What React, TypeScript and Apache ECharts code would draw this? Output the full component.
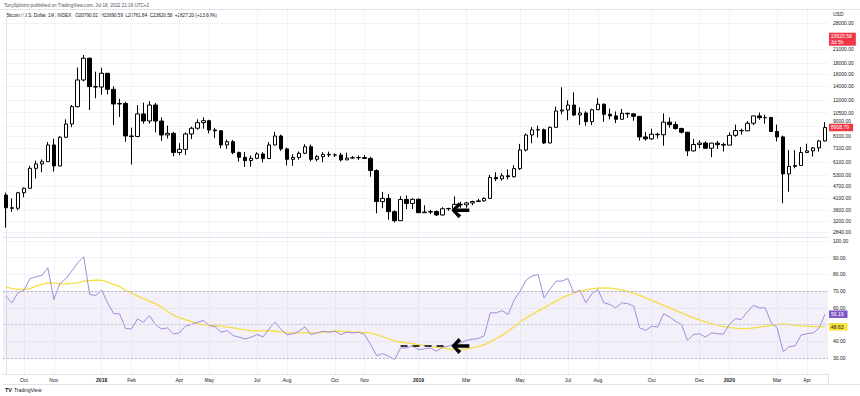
import React, { useEffect, useRef } from "react";
import * as echarts from "echarts";

// ---------- data (weekly candles, Bitcoin / U.S. Dollar INDEX) ----------
const firstWeekUTC = [2017, 8, 11]; // Monday 2017-09-11
const opens = [
  4250, 3700, 3680, 4360, 4580, 5700, 5980, 6130, 7360, 5850, 8010, 9260, 11200, 15000, 19030, 13940,
  13880, 16140, 13540, 11530, 11600, 8120, 8080, 10340, 9570, 11400, 9570, 8210, 8360, 6780, 7020, 8300,
  8840, 9400, 9600, 8670, 8600, 7360, 7630, 6770, 6430, 6200, 6360, 6670, 6340, 7360, 8120, 7050,
  6290, 6420, 6720, 7220, 6290, 6480, 6640, 6600, 6590, 6250, 6380, 6400, 6410, 6350, 5560, 3960,
  4100, 3545, 3210, 4050, 3880, 4060, 3505, 3530, 3550, 3420, 3660, 3670, 3840, 3820, 3900, 3960,
  3990, 4100, 5160, 5080, 5250, 5200, 5680, 6970, 8210, 8680, 8700, 7520, 8930, 10680, 10800, 11400,
  10220, 10450, 9500, 10830, 11500, 10300, 10120, 9750, 10410, 10350, 10070, 8040, 7870, 8280, 8230, 9450,
  9200, 8810, 8460, 6900, 7400, 7520, 7100, 7510, 7390, 7350, 8180, 8620, 8600, 9340, 10120, 9920,
  9950, 8530, 8040, 5360, 5820, 5880, 6780, 6900, 7130, 7690,
];
const highs = [
  4370, 4100, 4400, 4620, 5860, 6200, 6280, 7600, 7880, 8100, 9750, 11400, 17200, 19720, 19200, 16430,
  17150, 16200, 14000, 12200, 11800, 8900, 11400, 11700, 11900, 11650, 9950, 9100, 8500, 7500, 8450, 9000,
  9750, 9950, 9700, 8870, 8650, 7800, 7760, 6850, 6820, 6560, 6800, 6800, 7600, 8500, 8250, 7150,
  6650, 6850, 7420, 7400, 6600, 6800, 6840, 6700, 6750, 6770, 6520, 6550, 6580, 6470, 5640, 4400,
  4300, 3600, 4200, 4240, 4100, 4100, 3800, 3620, 3600, 3720, 3700, 4190, 3950, 3950, 4000, 4080,
  4150, 5300, 5460, 5400, 5630, 5900, 7450, 8350, 8950, 9100, 8800, 9000, 11200, 13850, 12000, 13100,
  11100, 10650, 10950, 12300, 11600, 10950, 10620, 10920, 10480, 10400, 10100, 8500, 8800, 8420, 10400, 9950,
  9500, 8900, 8500, 7860, 7750, 7650, 7500, 7700, 7550, 8450, 9200, 8800, 9560, 10150, 10500, 10250,
  10000, 9200, 8150, 6960, 6950, 7200, 7460, 7200, 7780, 9460,
];
const lows = [
  2975, 3540, 3600, 4150, 4560, 5100, 5460, 6120, 5500, 5830, 7950, 8950, 11100, 14800, 10800, 12270,
  12750, 12800, 9160, 10000, 7630, 5940, 8000, 9300, 9300, 8450, 7700, 7900, 6500, 6580, 6600, 7850,
  8700, 8800, 8350, 7950, 7100, 7050, 6650, 6130, 5780, 5800, 6300, 6080, 6330, 7350, 6900, 5880,
  5860, 6260, 6660, 6150, 6150, 6100, 6450, 6450, 6150, 6250, 6350, 6250, 6340, 5200, 3480, 3680,
  3250, 3150, 3200, 3650, 3650, 3500, 3500, 3450, 3380, 3400, 3580, 3650, 3700, 3700, 3800, 3950,
  3960, 4090, 4950, 4980, 5050, 5150, 5600, 6850, 7500, 8000, 7450, 7500, 8900, 10300, 9650, 10100,
  9160, 9100, 9150, 10800, 9480, 9750, 9350, 9700, 9900, 9600, 7720, 7710, 7780, 7900, 7300, 8900,
  8700, 8350, 6520, 6850, 7100, 7050, 6440, 7050, 6850, 7350, 8050, 8250, 8550, 9150, 9700, 9300,
  8500, 7650, 3886, 4410, 5700, 5870, 6750, 6480, 6850, 7650,
];
const closes = [
  3700, 3680, 4360, 4580, 5700, 5980, 6130, 7360, 5850, 8010, 9260, 11200, 15000, 19030, 13940, 13880,
  16140, 13540, 11530, 11600, 8120, 8080, 10340, 9570, 11400, 9570, 8210, 8360, 6780, 7020, 8300, 8840,
  9400, 9600, 8670, 8600, 7360, 7630, 6770, 6430, 6200, 6360, 6670, 6340, 7360, 8120, 7050, 6290,
  6420, 6720, 7220, 6290, 6480, 6640, 6600, 6590, 6250, 6380, 6400, 6410, 6350, 5560, 3960, 4100,
  3545, 3210, 4050, 3880, 4060, 3505, 3530, 3550, 3420, 3660, 3670, 3840, 3820, 3900, 3960, 3990,
  4100, 5160, 5080, 5250, 5200, 5680, 6970, 8210, 8680, 8700, 7520, 8930, 10680, 10800, 11400, 10220,
  10450, 9500, 10830, 11500, 10300, 10120, 9750, 10410, 10350, 10070, 8040, 7870, 8280, 8230, 9450, 9200,
  8810, 8460, 6900, 7400, 7520, 7100, 7510, 7390, 7350, 8180, 8620, 8600, 9340, 10120, 9920, 9950,
  8530, 8040, 5360, 5820, 5880, 6780, 6900, 7130, 7690, 8908.79,
];
const rsiValues = [
  67, 63, 69, 70.5, 77.4, 78.6, 79.4, 84, 65, 74.4, 77.4, 82, 87, 90.6, 68, 67.4,
  70.6, 63, 56.6, 56.4, 47.6, 47.4, 53.4, 51.4, 55.4, 50, 47.4, 48, 44.4, 45, 49, 50,
  51.4, 52.4, 49.4, 48.6, 45.4, 46.4, 43.4, 42.4, 41.4, 42.4, 44, 42.6, 47.4, 51.5, 47, 44,
  44.4, 46, 48.6, 44, 45, 46, 45.4, 46, 44, 45.4, 45, 45.4, 44, 38, 31.4, 32.6,
  31, 29, 36, 36, 37.4, 35, 35.4, 36, 34, 36.4, 37, 38.5, 39, 40.5, 41.2, 41.6,
  43.4, 57, 57, 58.4, 56, 64.6, 70, 76.6, 79, 80, 66, 71, 76, 76, 77.5, 69,
  70.5, 63, 68.5, 71, 63, 62, 60, 63, 62.5, 61, 48, 46.5, 49, 48.5, 56.5, 54.5,
  52, 50, 40.5, 44, 44.5, 42.5, 45, 44.5, 44.3, 50, 53.5, 53, 57.5, 61.5, 60, 60,
  51, 48, 33.8, 36.8, 37.2, 43.7, 44.5, 45, 47.8, 56.19,
];
const rsiMAValues = [
  72.6, 71.5, 71, 71, 71.5, 73, 74, 75, 74.8, 74.4, 74.4, 74.6, 75, 76, 76.3, 76.6,
  76.5, 75.5, 74, 72.8, 70.5, 69, 67, 65.5, 64, 62.5, 60.5, 58, 55.6, 54.2, 53, 51.8,
  50.6, 50, 49.6, 49.4, 49, 48.4, 48, 47.4, 46.8, 46.4, 46.2, 46.2, 46.2, 46, 45.6, 45.2,
  45, 45, 45, 45, 45.2, 45.5, 45.8, 46, 46, 45.8, 45.5, 45.4, 45.2, 45, 44, 42.8,
  41.5, 40.3, 39.4, 39, 38.6, 38, 37.5, 37, 36.4, 36, 35.5, 35, 34.8, 35.5, 36.2, 37,
  38, 39.5, 41.5, 43.5, 46, 48.5, 51.5, 54, 56, 58, 60, 62, 64, 66, 67.5, 69,
  70, 70.8, 71.4, 71.8, 72, 71.8, 71.3, 70.6, 69.8, 68.8, 67.5, 66, 64.5, 63, 61.5, 60,
  58.5, 57, 55.5, 54, 52.8, 51.6, 50.5, 49.6, 48.8, 48.2, 47.8, 47.6, 47.6, 48, 48.5, 49,
  49.5, 50, 50.3, 50, 49.6, 49.2, 49, 48.8, 48.7, 48.63,
];
const priceTicks = [2840, 3200, 3600, 4100, 4700, 5300, 6100, 7100, 8100, 9000, 10500, 12000, 14000, 16000, 18000, 21000, 28000];
const rsiGridTicks = [30, 40, 50, 60, 70, 80, 90, 100];
const rsiLabelTicks = [30, 40, 60, 70, 80, 90, 100];
const timeTickDates = [
  "2017-10-02", "2017-11-06", "2018-01-01", "2018-02-05", "2018-04-02", "2018-05-07", "2018-07-02",
  "2018-08-06", "2018-10-01", "2018-11-05", "2019-01-07", "2019-03-04", "2019-05-06", "2019-07-01",
  "2019-08-05", "2019-10-07", "2019-12-02", "2020-01-06", "2020-03-02", "2020-04-06",
];
const monthNames = ["Jan", "Feb", "Mar", "Apr", "May", "Jun", "Jul", "Aug", "Sep", "Oct", "Nov", "Dec"];
const currentPrice = 23620.58;
const currentCountdown = "3d 5h";
const rsiBand = { upper: 70, middle: 50, lower: 30 };
const priceArrow = { week: "2019-02-25", price: 3600 };
const rsiArrow = { fromWeek: "2018-12-17", toWeek: "2019-02-11", arrowWeek: "2019-02-25", value: 37.2 };
const publishedText = "TonySpilotro published on TradingView.com, Jul 18, 2022 21:19 UTC+2";
const symbolText = "Bitcoin / U.S. Dollar, 1W, INDEX";
const ohlcText = "O20790.02  H23690.59  L20761.84  C23620.58  +2827.20 (+13.60%)";

// ---------- derived ----------
const N = opens.length;
const weeks = opens.map((_, i) =>
  new Date(Date.UTC(firstWeekUTC[0], firstWeekUTC[1], firstWeekUTC[2] + 7 * i)).toISOString().slice(0, 10)
);
const lg = (p: number) => Math.log10(p);
const candleData = opens.map((o, i) => [lg(o), lg(closes[i]), lg(lows[i]), lg(highs[i])]);
const timeTickIdx = timeTickDates.map((d) => weeks.indexOf(d));
const lastClose = closes[N - 1];
const lastRsi = rsiValues[N - 1];
const lastRsiMA = rsiMAValues[N - 1];

const FONT = "'Liberation Sans', Arial, sans-serif";
const TXT = "#131722";
const GRIDC = "#F0F3FA";
const BORDER = "#E0E3EB";
const CLEAR = "rgba(0,0,0,0)";
const ARROW = "path://M0,9 L8,1 L11,4 L6.5,7.3 L20,7.3 L20,10.7 L6.5,10.7 L11,14 L8,17 Z";

function tagLabel(text: string, bg: string, fg: string) {
  return {
    show: true,
    position: "end",
    distance: 1,
    formatter: text,
    backgroundColor: bg,
    color: fg,
    fontSize: 5,
    fontFamily: FONT,
    lineHeight: 5.5,
    padding: [1, 4, 1, 2],
  };
}

// price label close to the last-close tag is lifted a little (as the price scale does)
function priceLabel(v: number) {
  const p = Math.round(Math.pow(10, v));
  const txt = p.toFixed(2);
  const nearTag = Math.abs(lg(p) - lg(lastClose)) < 0.012;
  return nearTag ? `{up|${txt}}` : txt;
}

export default function App() {
  const ref = useRef<HTMLDivElement>(null);
  useEffect(() => {
    if (!ref.current) return;
    const chart = echarts.init(ref.current, undefined, { renderer: "svg" });
    const option: any = {
      animation: false,
      backgroundColor: "#ffffff",
      textStyle: { fontFamily: FONT },
      grid: [
        { left: 3, top: 10, width: 825, height: 227 },
        { left: 3, top: 238, width: 825, height: 136 },
      ],
      xAxis: [
        {
          type: "category", gridIndex: 0, data: weeks, position: "bottom",
          axisLine: { show: true, lineStyle: { color: BORDER } },
          axisTick: { show: false }, axisLabel: { show: false }, splitLine: { show: false },
        },
        {
          type: "value", gridIndex: 0, min: -0.5, max: N - 0.5, position: "bottom",
          axisLine: { show: false },
          axisTick: { show: false, customValues: timeTickIdx },
          axisLabel: { show: false, customValues: timeTickIdx },
          splitLine: { show: true, lineStyle: { color: GRIDC, width: 1 } },
        },
        {
          type: "category", gridIndex: 1, data: weeks, position: "bottom",
          axisLine: { show: true, lineStyle: { color: BORDER } },
          axisTick: { show: false }, axisLabel: { show: false }, splitLine: { show: false },
        },
        {
          type: "value", gridIndex: 1, min: -0.5, max: N - 0.5, position: "bottom",
          axisLine: { show: false },
          axisTick: { show: false, customValues: timeTickIdx },
          axisLabel: {
            show: true,
            customValues: timeTickIdx,
            margin: 3,
            fontSize: 5,
            color: TXT,
            formatter: (v: number) => {
              const d = weeks[Math.round(v)] || "";
              const y = d.slice(0, 4);
              const m = parseInt(d.slice(5, 7), 10);
              return m === 1 ? `{b|${y}}` : monthNames[m - 1];
            },
            rich: { b: { fontWeight: "bold", fontSize: 5, color: TXT } },
          },
          splitLine: { show: true, lineStyle: { color: GRIDC, width: 1 } },
        },
      ],
      yAxis: [
        {
          type: "value", gridIndex: 0, position: "right",
          min: lg(2686), max: lg(32280),
          axisLine: { show: true, lineStyle: { color: BORDER } },
          axisTick: { show: false, customValues: priceTicks.map(lg) },
          axisLabel: {
            customValues: priceTicks.map(lg),
            formatter: priceLabel,
            fontSize: 5, color: TXT, margin: 5,
            rich: { up: { fontSize: 5, color: TXT, padding: [0, 0, 11, 0] } },
          },
          splitLine: { show: true, lineStyle: { color: GRIDC, width: 1 } },
        },
        {
          type: "value", gridIndex: 1, position: "right",
          min: 20.4, max: 101.8,
          axisLine: { show: true, lineStyle: { color: BORDER } },
          axisTick: { show: false, customValues: rsiGridTicks },
          axisLabel: {
            customValues: rsiLabelTicks,
            formatter: (v: number) => v.toFixed(2),
            fontSize: 5, color: TXT, margin: 5,
          },
          splitLine: { show: true, lineStyle: { color: GRIDC, width: 1 } },
        },
      ],
      series: [
        {
          type: "candlestick",
          xAxisIndex: 0, yAxisIndex: 0,
          data: candleData,
          barWidth: 4,
          itemStyle: { color: "#ffffff", color0: "#000000", borderColor: "#000000", borderColor0: "#000000", borderWidth: 1 },
          markLine: {
            silent: true, symbol: ["none", "none"], z: 10,
            lineStyle: { color: CLEAR, width: 0 },
            data: [
              { yAxis: lg(currentPrice), label: tagLabel(`${currentPrice.toFixed(2)}\n${currentCountdown}`, "#F23645", "#ffffff") },
              { yAxis: lg(lastClose), label: tagLabel(lastClose.toFixed(2), "#F23645", "#ffffff") },
            ],
          },
          markPoint: {
            silent: true,
            data: [
              {
                coord: [weeks.indexOf(priceArrow.week), lg(priceArrow.price)],
                symbol: ARROW, symbolSize: [18, 16],
                itemStyle: { color: "#000000" }, label: { show: false },
              },
            ],
          },
        },
        {
          type: "line",
          name: "RSI",
          xAxisIndex: 2, yAxisIndex: 1,
          data: rsiValues,
          showSymbol: false, symbol: "none",
          lineStyle: { color: "#A08CDA", width: 1 },
          z: 3,
          markArea: {
            silent: true,
            itemStyle: { color: "rgba(126,87,194,0.09)" },
            data: [[{ yAxis: rsiBand.upper }, { yAxis: rsiBand.lower }]],
          },
          markLine: {
            silent: true, symbol: ["none", "none"], z: 10,
            data: [
              { yAxis: rsiBand.upper, lineStyle: { color: "#B2B5BE", type: [2, 2], width: 1 }, label: { show: false } },
              { yAxis: rsiBand.middle, lineStyle: { color: "#C8CAD2", type: [2, 2], width: 1 }, label: { show: false } },
              { yAxis: rsiBand.lower, lineStyle: { color: "#B2B5BE", type: [2, 2], width: 1 }, label: { show: false } },
              [
                { coord: [weeks.indexOf(rsiArrow.fromWeek), rsiArrow.value], lineStyle: { color: "#3a3a3a", type: [7, 5], width: 2 }, label: { show: false } },
                { coord: [weeks.indexOf(rsiArrow.toWeek), rsiArrow.value] },
              ],
              { yAxis: lastRsi, lineStyle: { color: CLEAR, width: 0 }, label: tagLabel(lastRsi.toFixed(2), "#7E57C2", "#ffffff") },
            ],
          },
          markPoint: {
            silent: true,
            data: [
              {
                coord: [weeks.indexOf(rsiArrow.arrowWeek), rsiArrow.value],
                symbol: ARROW, symbolSize: [18, 16],
                itemStyle: { color: "#000000" }, label: { show: false },
              },
            ],
          },
        },
        {
          type: "line",
          name: "RSI-based MA",
          xAxisIndex: 2, yAxisIndex: 1,
          data: rsiMAValues,
          showSymbol: false, symbol: "none", smooth: false,
          lineStyle: { color: "#F4DF45", width: 1.3 },
          z: 2,
          markLine: {
            silent: true, symbol: ["none", "none"], z: 10,
            lineStyle: { color: CLEAR, width: 0 },
            data: [{ yAxis: lastRsiMA, label: tagLabel(lastRsiMA.toFixed(2), "#F7E13C", TXT) }],
          },
        },
      ],
      graphic: [
        { type: "line", shape: { x1: 0, y1: 9.5, x2: 860, y2: 9.5 }, style: { stroke: BORDER, lineWidth: 1 }, silent: true },
        { type: "line", shape: { x1: 828.5, y1: 374, x2: 828.5, y2: 384 }, style: { stroke: BORDER, lineWidth: 1 }, silent: true },
        { type: "line", shape: { x1: 3, y1: 384.5, x2: 860, y2: 384.5 }, style: { stroke: BORDER, lineWidth: 1 }, silent: true },
        { type: "text", left: 4, top: 2.5, style: { text: publishedText, fontSize: 4.6, fill: "#50535E", fontFamily: FONT } },
        { type: "text", left: 6, top: 12.5, style: { text: `${symbolText}   ${ohlcText}`, fontSize: 4.6, fill: TXT, fontFamily: FONT } },
        { type: "text", left: 833, top: 11.5, style: { text: "USD", fontSize: 5, fill: TXT, fontFamily: FONT } },
        { type: "text", left: 5, top: 387, style: { text: "TV", fontSize: 5.5, fontWeight: "bold", fill: TXT, fontFamily: FONT } },
        { type: "text", left: 14, top: 387.5, style: { text: "TradingView", fontSize: 5, fill: TXT, fontFamily: FONT } },
      ],
    };
    chart.setOption(option);
    return () => chart.dispose();
  }, []);
  return (
    <div
      ref={ref}
      style={{ position: "fixed", left: 0, top: 0, width: 860, height: 396, background: "#fff" }}
    />
  );
}
